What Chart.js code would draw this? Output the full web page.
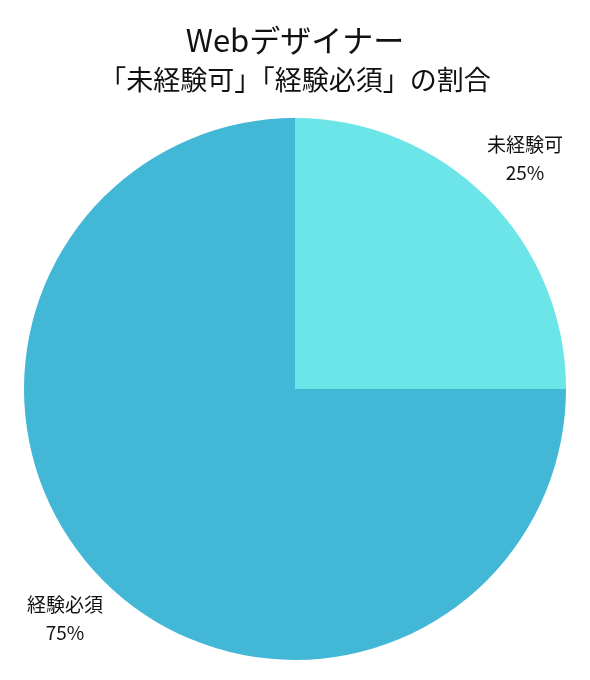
<!DOCTYPE html>
<html>
<head>
<meta charset="utf-8">
<script src="https://cdn.jsdelivr.net/npm/chart.js@4/dist/chart.umd.min.js"></script>
<style>
  html, body { margin: 0; padding: 0; background: #fff; }
  #wrap { width: 590px; height: 680px; }
</style>
</head>
<body>
<div id="wrap"><canvas id="pie-chart"></canvas></div>
<script>
const labels = ['未経験可', '経験必須'];
const shares = [25, 75];
const colors = ['#6ce5e8', '#42b7d6'];

const FONT = '"Noto Sans CJK JP", "Noto Sans", sans-serif';

// draws "name / percent" outside each slice along its middle angle
const outerLabels = {
    id: 'outerLabels',
    afterDatasetsDraw(chart) {
        const ctx = chart.ctx;
        const meta = chart.getDatasetMeta(0);
        ctx.save();
        ctx.fillStyle = '#111';
        ctx.font = `19px ${FONT}`;
        ctx.textAlign = 'center';
        ctx.textBaseline = 'middle';
        meta.data.forEach((arc, i) => {
            const p = arc.getProps(['x', 'y', 'startAngle', 'endAngle', 'outerRadius'], true);
            const mid = (p.startAngle + p.endAngle) / 2;
            const r = p.outerRadius * 1.2;
            const x = p.x + Math.cos(mid) * r;
            const y = p.y + Math.sin(mid) * r;
            ctx.fillText(labels[i], x, y - 14);
            ctx.fillText(shares[i] + '%', x, y + 14);
        });
        ctx.restore();
    }
};

new Chart(document.getElementById('pie-chart'), {
    type: 'pie',
    data: {
        labels: labels,
        datasets: [{
            data: shares,
            backgroundColor: colors,
            borderWidth: 0
        }]
    },
    options: {
        responsive: true,
        maintainAspectRatio: false,
        animation: false,
        layout: { padding: { top: 0, left: 24, right: 24, bottom: 20 } },
        plugins: {
            legend: { display: false },
            tooltip: { enabled: false },
            title: {
                display: true,
                text: 'Webデザイナー',
                color: '#111',
                font: { family: FONT, size: 31, weight: 'normal' },
                padding: { top: 21.4, bottom: 0 }
            },
            subtitle: {
                display: true,
                text: '「未経験可」「経験必須」の割合',
                color: '#111',
                font: { family: FONT, size: 27, weight: 'normal' },
                padding: { top: 5.2, bottom: 21.8 }
            }
        }
    },
    plugins: [outerLabels]
});
</script>
</body>
</html>
